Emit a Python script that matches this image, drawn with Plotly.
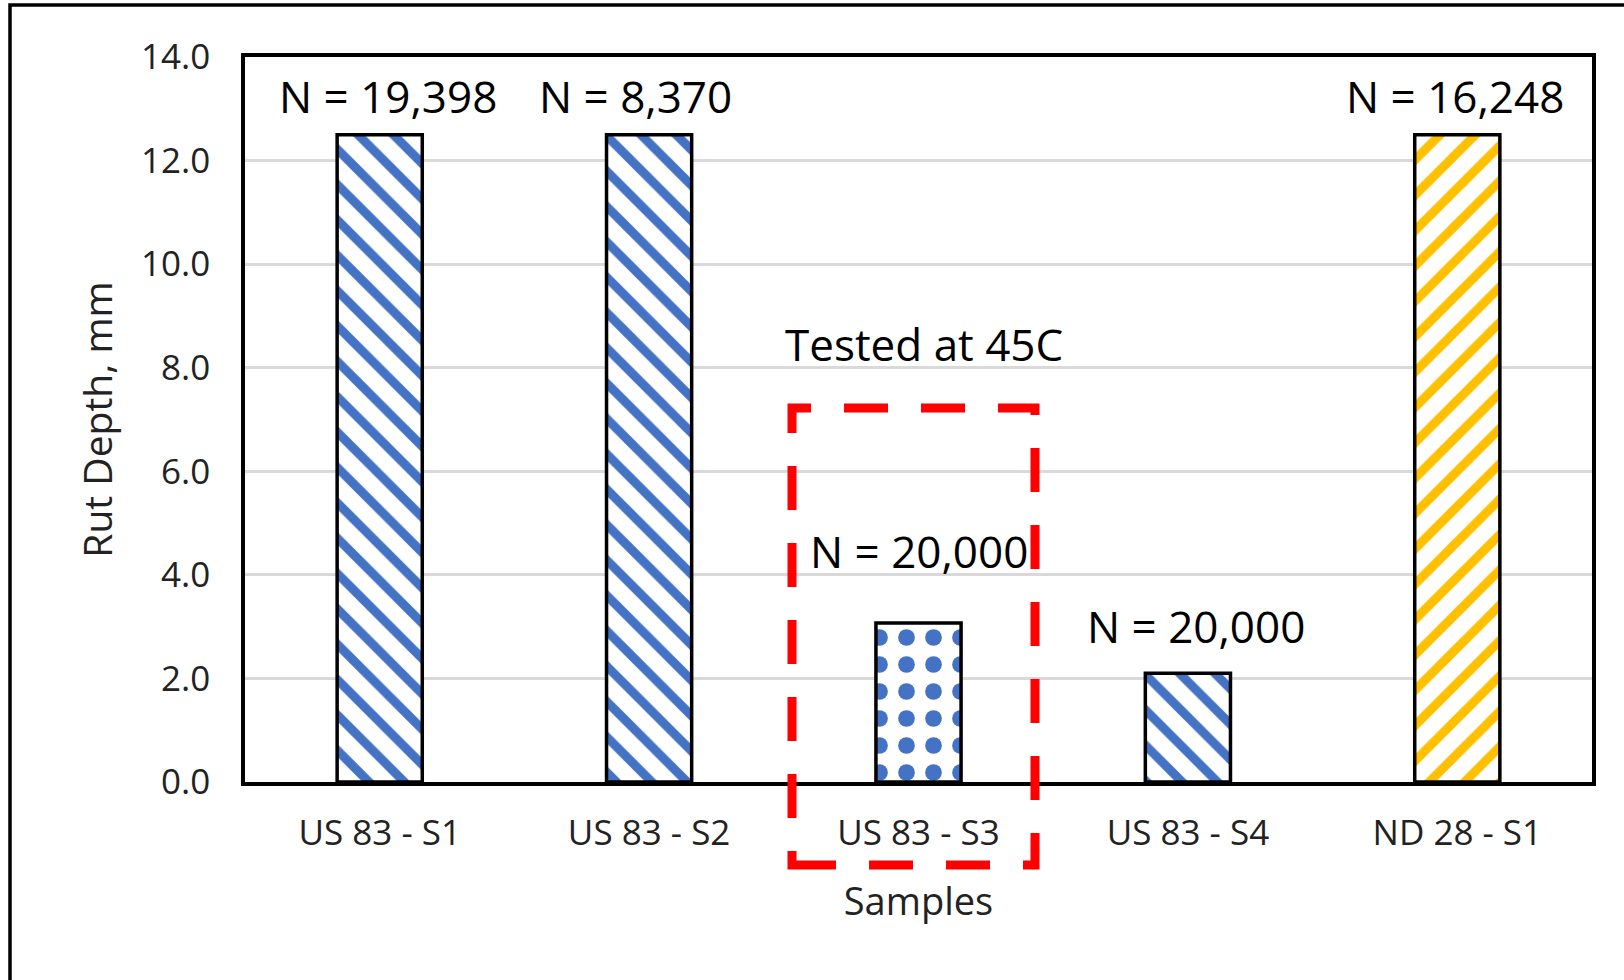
import plotly.graph_objects as go

# ---------------- data ----------------
categories = ["US 83 - S1", "US 83 - S2", "US 83 - S3", "US 83 - S4", "ND 28 - S1"]
rut_depth = [12.5, 12.5, 3.07, 2.1, 12.5]
cycle_labels = ["N = 19,398", "N = 8,370", "N = 20,000", "N = 20,000", "N = 16,248"]
y_tick_vals = [0, 2, 4, 6, 8, 10, 12, 14]
y_tick_text = ["0.0", "2.0", "4.0", "6.0", "8.0", "10.0", "12.0", "14.0"]

# ---------------- styles ----------------
pattern_shapes = ["\\", "\\", ".", "\\", "/"]
pattern_colors = ["#4472C4", "#4472C4", "#4472C4", "#4472C4", "#FFC000"]
pattern_sizes = [25, 25, 27, 25, 25]
pattern_solid = [0.36, 0.36, 0.3, 0.36, 0.36]
label_dx = [0.03, -0.05, 0.0, 0.03, -0.01]
label_y = [13.25, 13.25, 4.47, 3.02, 13.25]

W, H = 1624, 980
ML, MR, MT, MB = 245, 32, 57, 198
PW, PH = W - ML - MR, H - MT - MB
FONT = "Open Sans"


def px_x(px):
    return (px - ML) / PW


def px_y(py):
    return (H - MB - py) / PH


fig = go.Figure()
fig.add_trace(go.Bar(
    x=categories,
    y=rut_depth,
    marker=dict(
        color="white",
        line=dict(color="black", width=3.5),
        pattern=dict(shape=pattern_shapes, fgcolor=pattern_colors, bgcolor="white",
                     fgopacity=1, size=pattern_sizes, solidity=pattern_solid,
                     fillmode="replace"),
    ),
    showlegend=False,
))

annotations = []
for i, (txt, dx, yy) in enumerate(zip(cycle_labels, label_dx, label_y)):
    annotations.append(dict(x=i + dx, y=yy, xref="x", yref="y", text=txt, showarrow=False,
                            font=dict(family=FONT, size=44, color="black"),
                            xanchor="center", yanchor="middle"))
annotations.append(dict(x=2.02, y=8.45, xref="x", yref="y", text="Tested at 45C", showarrow=False,
                        font=dict(family=FONT, size=44, color="black"),
                        xanchor="center", yanchor="middle"))

shapes = [
    # outer chart border (cropped at right & bottom)
    dict(type="rect", xref="paper", yref="paper",
         x0=px_x(10), x1=px_x(1660), y0=px_y(1010), y1=px_y(5),
         line=dict(color="black", width=3.5), fillcolor="rgba(0,0,0,0)", layer="above"),
    # red dashed highlight box
    dict(type="rect", xref="paper", yref="paper",
         x0=px_x(792), x1=px_x(1035), y0=px_y(865), y1=px_y(408),
         line=dict(color="#FF0000", width=9, dash="44px,33px"),
         fillcolor="rgba(0,0,0,0)", layer="above"),
]

fig.update_layout(
    width=W, height=H,
    margin=dict(l=ML, r=MR, t=MT, b=MB),
    paper_bgcolor="white", plot_bgcolor="white",
    bargap=0.684,
    font=dict(family=FONT, color="#222222"),
    annotations=annotations,
    shapes=shapes,
    xaxis=dict(
        showline=True, linecolor="black", linewidth=3.5, mirror=True,
        showgrid=False, ticks="", ticklabelstandoff=17,
        tickfont=dict(family=FONT, size=35, color="#222222"),
        title=dict(text="Samples", font=dict(family=FONT, size=38, color="#222222"), standoff=36),
    ),
    yaxis=dict(
        range=[0, 14], tickvals=y_tick_vals, ticktext=y_tick_text,
        showline=True, linecolor="black", linewidth=3.5, mirror=True,
        showgrid=True, gridcolor="#D9D9D9", gridwidth=3,
        zeroline=False, ticks="", ticklabelstandoff=24,
        tickfont=dict(family=FONT, size=35, color="#222222"),
        title=dict(text="Rut Depth, mm", font=dict(family=FONT, size=39, color="#222222"), standoff=17),
    ),
)

fig.write_html("out.html")
